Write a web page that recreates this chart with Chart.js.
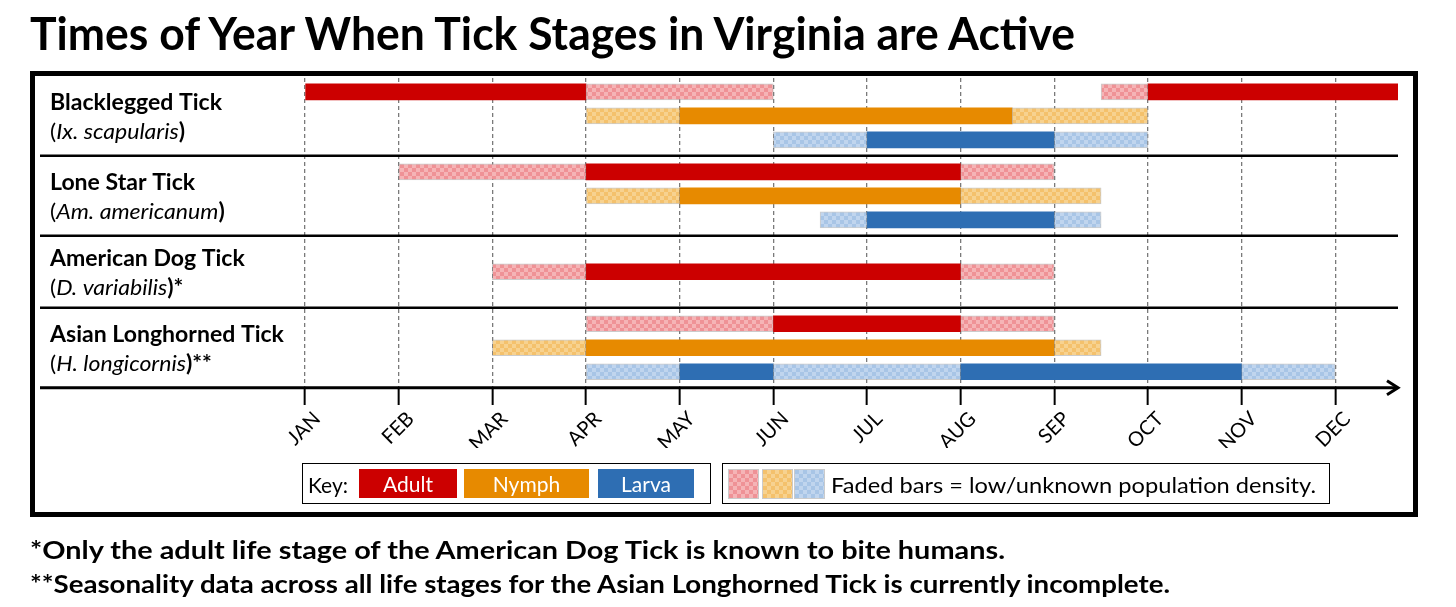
<!DOCTYPE html>
<html>
<head>
<meta charset="utf-8">
<script src="https://cdn.jsdelivr.net/npm/chart.js@4.4.1/dist/chart.umd.min.js"></script>
<style>
  body { margin:0; background:#fff; width:1456px; height:607px; overflow:hidden; position:relative; font-family:Lato, "Open Sans", sans-serif; color:#000; }
  #c { position:absolute; left:0; top:0; }
  .fit { position:absolute; white-space:nowrap; transform-origin:0 0; line-height:1; }
  #title { left:30px; top:10px; font-size:46px; font-weight:bold; }
  .note { left:30px; font-size:25px; font-weight:bold; }
  .box { position:absolute; border:1.5px solid #000; box-sizing:border-box; }
  .sw { position:absolute; top:469px; height:29px; color:#fff; font-size:21px; display:flex; align-items:center; justify-content:center; }
  .fade { position:absolute; top:470px; height:28px; width:29px; }
  .ktext { position:absolute; font-size:21px; line-height:1; white-space:nowrap; transform-origin:0 0; }
</style>
</head>
<body>
<canvas id="c" width="1456" height="607"></canvas>
<div id="title" class="fit">Times of Year When Tick Stages in Virginia are Active</div>
<div id="note1" class="fit note" style="top:537px">*Only the adult life stage of the American Dog Tick is known to bite humans.</div>
<div id="note2" class="fit note" style="top:571px">**Seasonality data across all life stages for the Asian Longhorned Tick is currently incomplete.</div>

<div class="box" style="left:302px;top:463px;width:409px;height:41px"></div>
<div class="ktext" style="left:308px;top:474px">Key:</div>
<div class="sw" id="kAdult" style="left:359px;width:98px"></div>
<div class="sw" id="kNymph" style="left:464px;width:125px"></div>
<div class="sw" id="kLarva" style="left:598px;width:96px"></div>

<div class="box" style="left:722px;top:463px;width:608px;height:41px"></div>
<div class="fade" id="fAdult" style="left:729px"></div>
<div class="fade" id="fNymph" style="left:763px"></div>
<div class="fade" id="fLarva" style="left:795px"></div>
<div class="ktext" id="fadeText" style="left:831px;top:474px">Faded bars = low/unknown population density.</div>

<script>
// ---- data (months counted from 1 January) ----
const months = ['JAN','FEB','MAR','APR','MAY','JUN','JUL','AUG','SEP','OCT','NOV','DEC'];
const species = ['Blacklegged Tick','Lone Star Tick','American Dog Tick','Asian Longhorned Tick'];
const latinNames = ['Ix. scapularis','Am. americanum','D. variabilis','H. longicornis'];
const nameMarks = ['','','*','**'];
const stages = ['Adult','Nymph','Larva'];
const stagesShown = [['Adult','Nymph','Larva'], ['Adult','Nymph','Larva'], ['Adult'], ['Adult','Nymph','Larva']];

const adultPeak = [[[0,3],[9,12]], [[3,7]], [[3,7]], [[5,7]]];
const adultLow  = [[[3,5],[8.5,9]], [[1,3],[7,8]], [[2,3],[7,8]], [[3,5],[7,8]]];
const nymphPeak = [[[4,7.55]], [[4,7]], [], [[3,8]]];
const nymphLow  = [[[3,4],[7.55,9]], [[3,4],[7,8.5]], [], [[2,3],[8,8.5]]];
const larvaPeak = [[[6,8]], [[6,8]], [], [[4,5],[7,10]]];
const larvaLow  = [[[5,6],[8,9]], [[5.5,6],[8,8.5]], [], [[3,4],[5,7],[10,11]]];

// ---- styles ----
const solidColor = { Adult:'#CC0000', Nymph:'#E78A00', Larva:'#2E6EB3' };
const fadedColor = { Adult:['#EF9296','#F5B4B6'], Nymph:['#F4C16C','#F7D290'], Larva:['#A8C5E6','#C0D5EE'] };

function checker(base, light){
  const p = document.createElement('canvas');
  p.width = 8; p.height = 8;
  const g = p.getContext('2d');
  g.fillStyle = base; g.fillRect(0,0,8,8);
  g.fillStyle = light; g.fillRect(0,0,4,4); g.fillRect(4,4,4,4);
  return document.getElementById('c').getContext('2d').createPattern(p, 'repeat');
}

// ---- row layout (y units: one bar row = 1) ----
const groupTop = -0.67;
const groupH = [3.33, 3.33, 3, 3.33];
const bounds = [groupTop];
groupH.forEach(h => bounds.push(bounds[bounds.length-1] + h));
const groupMid = groupH.map((h,i) => bounds[i] + h/2);
function rowY(g, stage){
  const rows = stagesShown[g];
  return groupMid[g] + rows.indexOf(stage) - (rows.length-1)/2;
}

function segments(list, stage){
  const out = [];
  list.forEach((segs, g) => segs.forEach(s => out.push({ x: s, y: rowY(g, stage) })));
  return out;
}

const peakLists = { Adult:adultPeak, Nymph:nymphPeak, Larva:larvaPeak };
const lowLists  = { Adult:adultLow,  Nymph:nymphLow,  Larva:larvaLow };
const datasets = [];
stages.forEach(st => {
  datasets.push({ label: st + ' (low)', data: segments(lowLists[st], st),
    backgroundColor: checker(fadedColor[st][0], fadedColor[st][1]),
    borderColor:'rgba(140,140,140,0.45)', borderWidth:1, borderSkipped:false });
  datasets.push({ label: st, data: segments(peakLists[st], st),
    backgroundColor: solidColor[st], borderWidth:0 });
});

// ---- legend swatches ----
stages.forEach(st => {
  const k = document.getElementById('k' + st);
  k.textContent = st; k.style.background = solidColor[st];
  const f = document.getElementById('f' + st);
  f.style.background = `repeating-conic-gradient(${fadedColor[st][1]} 0% 25%, ${fadedColor[st][0]} 0% 50%) 0 0 / 8px 8px`;
  f.style.outline = '1px solid rgba(140,140,140,0.45)';
});

function fit(id, w){
  const el = document.getElementById(id);
  el.style.transform = `scaleX(${w / el.getBoundingClientRect().width})`;
}
fit('title', 1045); fit('note1', 975); fit('note2', 1140); fit('fadeText', 485);

// ---- decorations: separators, axis arrow, species names, frame ----
const decor = {
  id: 'decor',
  afterDraw(chart){
    const { ctx, scales:{ x, y } } = chart;
    const line = (x1,y1,x2,y2) => { ctx.beginPath(); ctx.moveTo(x1,y1); ctx.lineTo(x2,y2); ctx.stroke(); };
    ctx.save();
    ctx.strokeStyle = '#000';
    ctx.lineWidth = 2.5;
    bounds.slice(1,-1).forEach(b => { const py = y.getPixelForValue(b); line(40, py, x.right, py); });

    const ay = y.getPixelForValue(bounds[bounds.length-1]);
    ctx.lineWidth = 3;
    line(40, ay, x.right, ay);
    ctx.beginPath();
    ctx.moveTo(x.right-11, ay-7); ctx.lineTo(x.right, ay); ctx.lineTo(x.right-11, ay+7);
    ctx.stroke();

    ctx.fillStyle = '#000';
    ctx.textBaseline = 'alphabetic';
    ctx.font = 'bold 22px Lato';
    const sx = 172 / ctx.measureText(species[0]).width;
    species.forEach((name, g) => {
      const mid = y.getPixelForValue(groupMid[g]);
      ctx.save();
      ctx.translate(50, mid - 6); ctx.scale(sx, 1);
      ctx.font = 'bold 22px Lato';
      ctx.fillText(name, 0, 0);
      ctx.restore();

      ctx.save();
      ctx.translate(50, mid + 23); ctx.scale(sx, 1);
      let cx = 0;
      const part = (t, f) => { ctx.font = f; ctx.fillText(t, cx, 0); cx += ctx.measureText(t).width; };
      part('(', '22px Lato');
      part(latinNames[g], 'italic 22px Lato');
      part(')' + nameMarks[g], 'bold 22px Lato');
      ctx.restore();
    });

    ctx.lineWidth = 5;
    ctx.strokeRect(32.5, 73.5, 1383, 441);
    ctx.restore();
  }
};

new Chart(document.getElementById('c'), {
  type: 'bar',
  data: { datasets },
  options: {
    indexAxis: 'y',
    responsive: false,
    animation: false,
    events: [],
    layout: { padding: { left: 305, right: 58, top: 71, bottom: 159 } },
    datasets: { bar: { grouped: false, barThickness: 16 } },
    scales: {
      x: {
        type: 'linear', min: 0, max: 11.67,
        afterBuildTicks: s => { s.ticks = months.map((m, i) => ({ value: i })); },
        afterFit: s => { s.height = 60; },
        ticks: { autoSkip:false, minRotation:45, maxRotation:45, padding:2, labelOffset:12, color:'#000',
                 font:{ family:'Lato', size:20 }, callback: v => months[v] },
        grid: { color:'#7a7a7a', lineWidth:1.3, tickLength:17, tickColor:'#000', tickWidth:2, tickBorderDash:[] },
        border: { display:false, dash:[4,3] }
      },
      y: { type:'linear', reverse:true, offset:false, min:-0.875, max:12.333, display:false, grid:{ offset:false } }
    },
    plugins: { legend:{ display:false }, tooltip:{ enabled:false } }
  },
  plugins: [decor]
});
</script>
</body>
</html>
